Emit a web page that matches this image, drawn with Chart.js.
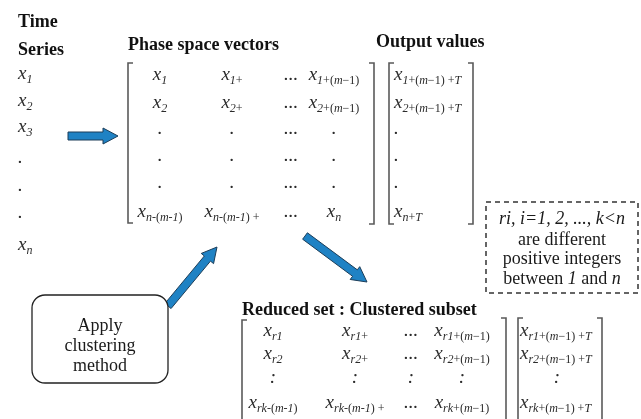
<!DOCTYPE html>
<html>
<head>
<meta charset="utf-8">
<script src="https://cdn.jsdelivr.net/npm/chart.js@4.4.0/dist/chart.umd.min.js"></script>
<style>
html, body { margin: 0; padding: 0; background: #fff; }
#c { display: block; }
</style>
</head>
<body>
<canvas id="c" width="641" height="419"></canvas>
<script>
// ---- diagram content ----
const headings = ["Time", "Series", "Phase space vectors", "Output values", "Reduced set : Clustered subset"];
const timeSeries = ["x_1", "x_2", "x_3", ".", ".", ".", "x_n"];
const phaseRows = [
	["x_1", "x_1+", "...", "x_1+(m−1)"],
	["x_2", "x_2+", "...", "x_2+(m−1)"],
	[".", ".", "...", "."],
	[".", ".", "...", "."],
	[".", ".", "...", "."],
	["x_n-(m-1)", "x_n-(m-1) +", "...", "x_n"]
];
const outputCol = ["x_1+(m−1) +T", "x_2+(m−1) +T", ".", ".", ".", "x_n+T"];
const reducedRows = [
	["x_r1", "x_r1+", "...", "x_r1+(m−1)"],
	["x_r2", "x_r2+", "...", "x_r2+(m−1)"],
	[":", ":", ":", ":"],
	["x_rk-(m-1)", "x_rk-(m-1) +", "...", "x_rk+(m−1)"]
];
const reducedOut = ["x_r1+(m−1) +T", "x_r2+(m−1) +T", ":", "x_rk+(m−1) +T"];
const noteLines = ["*ri, i=1, 2, ..., k<n*", "are different", "positive integers", "between *1* and *n*"];
const boxLines = ["Apply", "clustering", "method"];

// ---- layout (diagram units = pixels of the 641x419 picture) ----
const headPos = [[18, 27], [18, 55], [128, 50], [376, 47], [242, 315]];
const timeX = 18;
const timeBase = [79, 106, 132, 163, 191, 218, 250];
const phaseColX = [160, 232, 291, 334];
const phaseBase = [80, 108, 134, 161, 188, 217];
const outputX = 394;
const redColX = [273, 355, 411, 462];
const redBase = [336, 359, 383, 408];
const redOutX = 520, redOutMid = 557;
const noteX = 562, noteBase = [224, 245, 264, 284];
const boxX = 100, boxBase = [331, 351, 371];
const boxRect = [32, 295, 168, 383];
const noteRect = [486, 202, 638, 293];

// brackets: [x, top, bottom, tick direction]
const brackets = [
	[128, 63, 223, 1], [374, 63, 224, -1],
	[389, 63, 224, 1], [473, 63, 224, -1],
	[242, 320, 430, 1], [506, 318, 430, -1],
	[518, 318, 430, 1], [602, 318, 430, -1]
];
// arrows: [fromX, fromY, toX, toY]
const arrows = [
	[68, 136, 118, 136],
	[168, 306, 217, 247],
	[305, 236, 367, 282]
];

const SERIF = '"Liberation Serif", "Times New Roman", serif';
const INK = "#2b2b2b";

const bracketSets = brackets.map(([x, t, b, d]) => ({
	data: [{ x: x + 5 * d, y: t }, { x: x, y: t }, { x: x, y: b }, { x: x + 5 * d, y: b }],
	showLine: true, pointRadius: 0, borderColor: "#5a5a5a", borderWidth: 1.6, tension: 0
}));
const noteBox = {
	data: [
		{ x: noteRect[0], y: noteRect[1] }, { x: noteRect[2], y: noteRect[1] },
		{ x: noteRect[2], y: noteRect[3] }, { x: noteRect[0], y: noteRect[3] },
		{ x: noteRect[0], y: noteRect[1] }
	],
	showLine: true, pointRadius: 0, borderColor: "#333", borderWidth: 1.5, borderDash: [5, 4], tension: 0
};

// draws "x_sub" with a smaller subscript
function drawMath(ctx, label, x, y, align) {
	const idx = label.indexOf("_");
	const parts = [];
	if (idx < 0) {
		parts.push({ t: label, f: "italic 19px " + SERIF, dy: 0 });
	} else {
		parts.push({ t: label.slice(0, idx), f: "italic 19px " + SERIF, dy: 0 });
		const sub = label.slice(idx + 1);
		for (let i = 0; i < sub.length; i++) {
			const ch = sub[i];
			const prev = sub[i - 1];
			const it = /[a-zA-Z]/.test(ch) || (/[0-9]/.test(ch) && prev !== "−");
			parts.push({ t: ch, f: (it ? "italic " : "") + "12px " + SERIF, dy: 4 });
		}
	}
	let w = 0;
	parts.forEach(p => { ctx.font = p.f; p.w = ctx.measureText(p.t).width; w += p.w; });
	let cx = align === "center" ? x - w / 2 : x;
	ctx.textAlign = "left";
	parts.forEach(p => { ctx.font = p.f; ctx.fillText(p.t, cx, y + p.dy); cx += p.w; });
}

// plain line with *italic* parts
function drawRich(ctx, line, x, y, size) {
	const segs = line.split("*").map((t, i) => ({ t, f: (i % 2 ? "italic " : "") + size + "px " + SERIF }));
	let w = 0;
	segs.forEach(s => { ctx.font = s.f; s.w = ctx.measureText(s.t).width; w += s.w; });
	let cx = x - w / 2;
	ctx.textAlign = "left";
	segs.forEach(s => { ctx.font = s.f; ctx.fillText(s.t, cx, y); cx += s.w; });
}

const diagramPlugin = {
	id: "diagram",
	afterDatasetsDraw(chart) {
		const ctx = chart.ctx;
		const X = v => chart.scales.x.getPixelForValue(v);
		const Y = v => chart.scales.y.getPixelForValue(v);
		ctx.save();
		ctx.textBaseline = "alphabetic";

		// arrows
		arrows.forEach(([x0, y0, x1, y1]) => {
			const ax = X(x0), ay = Y(y0), bx = X(x1), by = Y(y1);
			const len = Math.hypot(bx - ax, by - ay);
			const ux = (bx - ax) / len, uy = (by - ay) / len;
			const nx = -uy, ny = ux;
			const sw = 4, hw = 8, hl = 15;
			const hx = bx - ux * hl, hy = by - uy * hl;
			ctx.beginPath();
			ctx.moveTo(ax + nx * sw, ay + ny * sw);
			ctx.lineTo(hx + nx * sw, hy + ny * sw);
			ctx.lineTo(hx + nx * hw, hy + ny * hw);
			ctx.lineTo(bx, by);
			ctx.lineTo(hx - nx * hw, hy - ny * hw);
			ctx.lineTo(hx - nx * sw, hy - ny * sw);
			ctx.lineTo(ax - nx * sw, ay - ny * sw);
			ctx.closePath();
			ctx.fillStyle = "#1f82c4";
			ctx.fill();
			ctx.strokeStyle = "#1c3d58";
			ctx.lineWidth = 1;
			ctx.stroke();
		});

		// rounded box
		const [rx0, ry0, rx1, ry1] = boxRect.map((v, i) => i % 2 ? Y(v) : X(v));
		ctx.beginPath();
		ctx.roundRect(rx0, ry0, rx1 - rx0, ry1 - ry0, 13);
		ctx.fillStyle = "#fff";
		ctx.fill();
		ctx.strokeStyle = "#222";
		ctx.lineWidth = 1.3;
		ctx.stroke();

		// headings
		ctx.fillStyle = "#111";
		ctx.font = "bold 18px " + SERIF;
		ctx.textAlign = "left";
		headings.forEach((h, i) => ctx.fillText(h, X(headPos[i][0]), Y(headPos[i][1])));

		// matrices
		ctx.fillStyle = INK;
		timeSeries.forEach((t, i) => drawMath(ctx, t, X(timeX), Y(timeBase[i]), "left"));
		phaseRows.forEach((row, r) => row.forEach((t, c) => drawMath(ctx, t, X(phaseColX[c]), Y(phaseBase[r]), "center")));
		outputCol.forEach((t, r) => drawMath(ctx, t, X(outputX), Y(phaseBase[r]), "left"));
		reducedRows.forEach((row, r) => row.forEach((t, c) => drawMath(ctx, t, X(redColX[c]), Y(redBase[r]), "center")));
		reducedOut.forEach((t, r) => {
			if (t === ":") drawMath(ctx, t, X(redOutMid), Y(redBase[r]), "center");
			else drawMath(ctx, t, X(redOutX), Y(redBase[r]), "left");
		});

		// note and box text
		ctx.fillStyle = "#1a1a1a";
		noteLines.forEach((l, i) => drawRich(ctx, l, X(noteX), Y(noteBase[i]), 18));
		boxLines.forEach((l, i) => drawRich(ctx, l, X(boxX), Y(boxBase[i]), 18));
		ctx.restore();
	}
};

new Chart(document.getElementById("c"), {
	type: "scatter",
	data: { datasets: [...bracketSets, noteBox] },
	options: {
		responsive: false,
		animation: false,
		devicePixelRatio: 1,
		layout: { padding: 0 },
		plugins: { legend: { display: false }, tooltip: { enabled: false } },
		scales: {
			x: { type: "linear", min: 0, max: 641, display: false },
			y: { type: "linear", min: 0, max: 419, reverse: true, display: false }
		}
	},
	plugins: [diagramPlugin]
});
</script>
</body>
</html>
